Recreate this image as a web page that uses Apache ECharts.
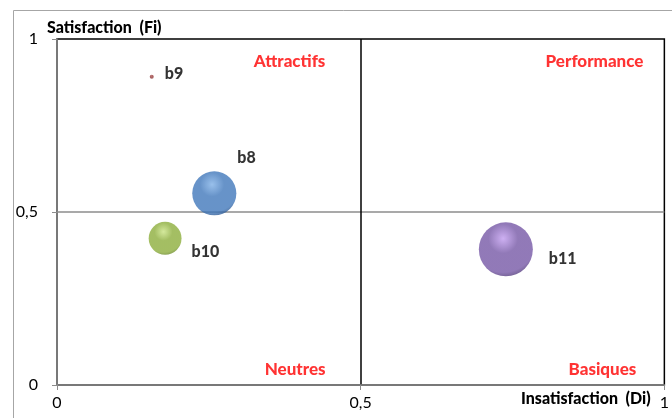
<!DOCTYPE html>
<html>
<head>
<meta charset="utf-8">
<script src="https://cdn.jsdelivr.net/npm/echarts@6/dist/echarts.min.js"></script>
<style>
html,body{margin:0;padding:0;background:#fff;}
#c{width:672px;height:418px;}
</style>
</head>
<body>
<div id="c"></div>
<script>
// ---- data ----
const names = ['b9', 'b8', 'b10', 'b11'];
const insatisfaction = [0.156, 0.259, 0.178, 0.739]; // Di (x)
const satisfaction = [0.891, 0.554, 0.424, 0.392];   // Fi (y)
const bubbleSizes = [0.15, 18, 10, 27];
const xTicks = [0, 0.5, 1];
const yTicks = [0, 0.5, 1];
const quadrantNames = ['Attractifs', 'Performance', 'Neutres', 'Basiques'];
const quadrantDi = [0.383, 0.885, 0.392, 0.898];
const quadrantFi = [0.934, 0.934, 0.046, 0.046];

// ---- styles ----
const FONT = 'Lato, "Liberation Sans", sans-serif';
const maxSize = Math.max(...bubbleSizes);
const maxDiam = 54;
const colors = {
  b9: ['#b86060', '#963c3c', '#6e2a2a'],
  b8: ['#7fb0e6', '#4178bb', '#1f4478'],
  b10: ['#c9e383', '#8dae3c', '#54711c'],
  b11: ['#c19cef', '#7658a6', '#3a275e']
};
const labelOffsets = {b9: [11, -3], b8: [1, -35], b10: [10, 14], b11: [16, 9]};

function diam(v) { return maxDiam * Math.sqrt(v / maxSize); }

const bubbleData = names.map((n, i) => {
  const c = colors[n];
  return {
    name: n,
    value: [insatisfaction[i], satisfaction[i], bubbleSizes[i]],
    itemStyle: {
      color: {
        type: 'radial', x: 0.45, y: 0.3, r: 0.78,
        colorStops: [
          {offset: 0, color: c[0]},
          {offset: 0.35, color: c[1]},
          {offset: 0.8, color: c[1]},
          {offset: 1, color: c[2]}
        ]
      }
    },
    label: {offset: labelOffsets[n], distance: 0}
  };
});

const quadData = quadrantNames.map((q, i) => ({name: q, value: [quadrantDi[i], quadrantFi[i]]}));

const fmt = v => String(v).replace('.', ',');

const chart = echarts.init(document.getElementById('c'), null, {renderer: 'canvas'});
chart.setOption({
  animation: false,
  backgroundColor: '#fff',
  grid: {left: 57, top: 39, right: 6, bottom: 33, show: true, borderColor: '#000', borderWidth: 1.5, backgroundColor: 'transparent'},
  graphic: [
    {type: 'rect', shape: {x: 13.5, y: 10.5, width: 700, height: 500}, style: {fill: 'none', stroke: '#a6a6a6', lineWidth: 1}, z: -10, silent: true},
    {type: 'text', left: 47, top: 20, style: {text: 'Satisfaction  (Fi)', font: '900 16px ' + FONT, fill: '#000'}},
    {type: 'text', left: 521, top: 391, style: {text: 'Insatisfaction  (Di)', font: '900 16px ' + FONT, fill: '#000'}}
  ],
  xAxis: {
    type: 'value', min: 0, max: 1, interval: 0.5,
    axisLine: {show: true, lineStyle: {color: '#8c8c8c', width: 1.5}},
    axisTick: {show: true, length: 5, lineStyle: {color: '#8c8c8c'}},
    axisLabel: {formatter: fmt, color: '#000', fontFamily: FONT, fontSize: 16, margin: 10, showMaxLabel: true},
    splitLine: {show: true, showMinLine: false, showMaxLine: false, lineStyle: {color: '#000', width: 1.5}}
  },
  yAxis: {
    type: 'value', min: 0, max: 1, interval: 0.5,
    axisLine: {show: true, lineStyle: {color: '#8c8c8c', width: 1.5}},
    axisTick: {show: true, length: 5, lineStyle: {color: '#8c8c8c'}},
    axisLabel: {formatter: fmt, color: '#000', fontFamily: FONT, fontSize: 16, margin: 19},
    splitLine: {show: true, showMinLine: false, showMaxLine: false, lineStyle: {color: '#8c8c8c', width: 1.5}}
  },
  series: [
    {
      type: 'scatter',
      data: bubbleData,
      symbolSize: v => diam(v[2]),
      label: {
        show: true, position: 'right', formatter: '{b}',
        fontFamily: FONT, fontWeight: 900, fontSize: 16, color: '#000'
      },
      z: 5
    },
    {
      type: 'scatter',
      data: quadData,
      symbolSize: 0,
      silent: true,
      label: {
        show: true, position: 'inside', formatter: '{b}',
        fontFamily: FONT, fontWeight: 900, fontSize: 17, color: '#ff0000'
      }
    }
  ]
});
</script>
</body>
</html>
